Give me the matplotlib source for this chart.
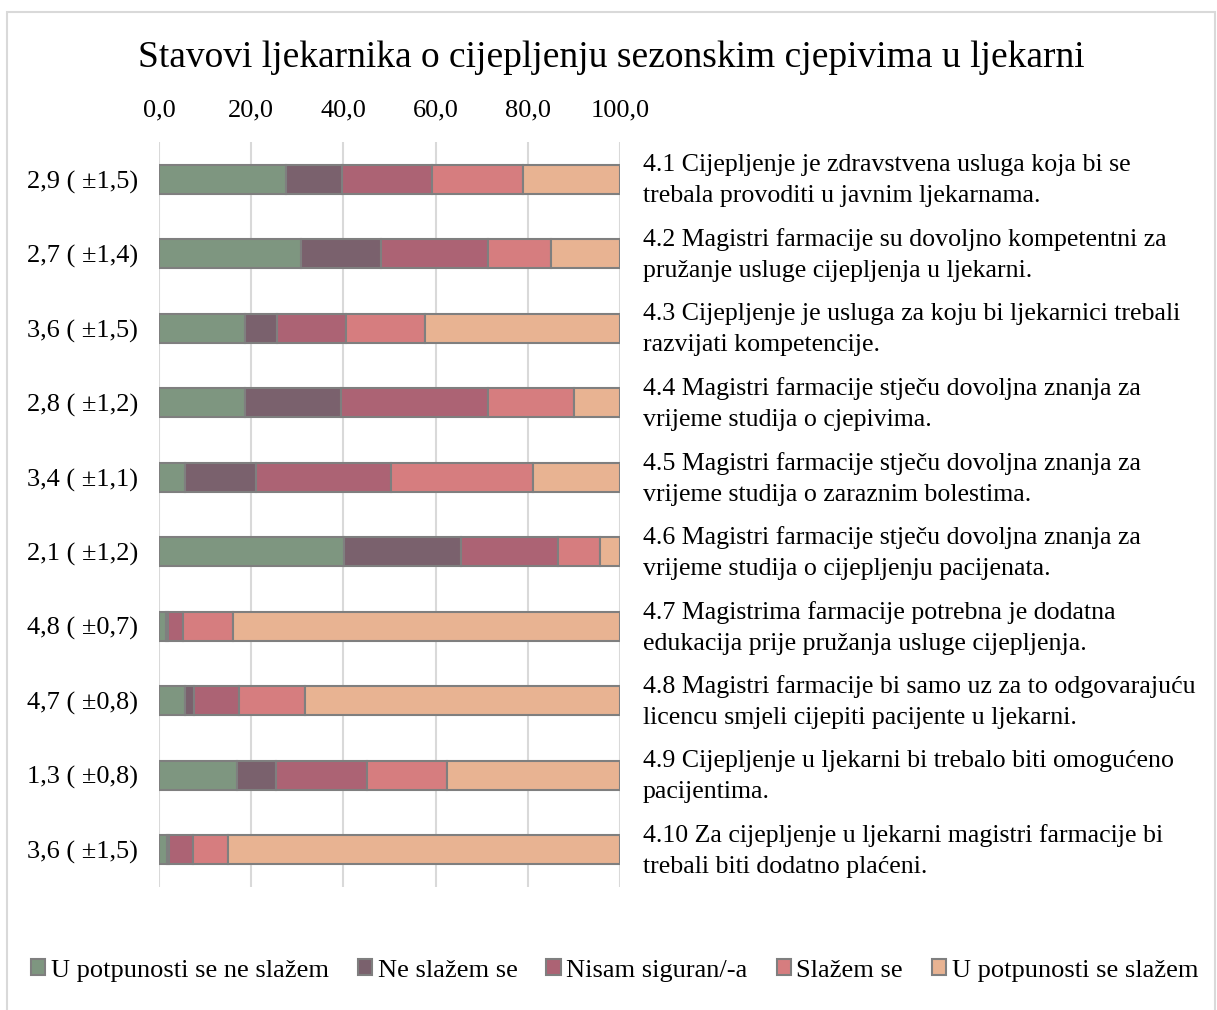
import numpy as np
import matplotlib.pyplot as plt
from matplotlib.patches import Rectangle
from matplotlib.ticker import FuncFormatter

plt.rcParams['font.family'] = ['Liberation Serif', 'DejaVu Serif']

categories = ['U potpunosti se ne slažem', 'Ne slažem se', 'Nisam siguran/-a',
              'Slažem se', 'U potpunosti se slažem']
colors = ['#7e9680', '#7a616d', '#ac6374', '#d67d7f', '#e8b392']

mean_labels = ['2,9 ( ±1,5)', '2,7 ( ±1,4)', '3,6 ( ±1,5)', '2,8 ( ±1,2)', '3,4 ( ±1,1)',
               '2,1 ( ±1,2)', '4,8 ( ±0,7)', '4,7 ( ±0,8)', '1,3 ( ±0,8)', '3,6 ( ±1,5)']

statements = [
    '4.1 Cijepljenje je zdravstvena usluga koja bi se\ntrebala provoditi u javnim ljekarnama.',
    '4.2 Magistri farmacije su dovoljno kompetentni za\npružanje usluge cijepljenja u ljekarni.',
    '4.3 Cijepljenje je usluga za koju bi ljekarnici trebali\nrazvijati kompetencije.',
    '4.4 Magistri farmacije stječu dovoljna znanja za\nvrijeme studija o cjepivima.',
    '4.5 Magistri farmacije stječu dovoljna znanja za\nvrijeme studija o zaraznim bolestima.',
    '4.6 Magistri farmacije stječu dovoljna znanja za\nvrijeme studija o cijepljenju pacijenata.',
    '4.7 Magistrima farmacije potrebna je dodatna\nedukacija prije pružanja usluge cijepljenja.',
    '4.8 Magistri farmacije bi samo uz za to odgovarajuću\nlicencu smjeli cijepiti pacijente u ljekarni.',
    '4.9 Cijepljenje u ljekarni bi trebalo biti omogućeno\npacijentima.',
    '4.10 Za cijepljenje u ljekarni magistri farmacije bi\ntrebali biti dodatno plaćeni.',
]

# postotci po kategoriji (redovi 4.1 - 4.10)
potpuno_ne = [27.5, 30.8, 18.6, 18.6, 5.6, 40.1, 1.4, 5.6, 17.0, 1.7]
ne_slazem = [12.2, 17.4, 6.9, 20.8, 15.5, 25.3, 0.6, 1.9, 8.3, 0.5]
nisam_siguran = [19.4, 23.1, 15.0, 31.9, 29.2, 21.2, 3.3, 9.8, 19.7, 5.1]
slazem = [19.9, 13.8, 17.2, 18.6, 30.9, 9.1, 10.8, 14.3, 17.4, 7.7]
potpuno_da = [21.0, 14.9, 42.3, 10.1, 18.8, 4.3, 83.9, 68.4, 37.6, 85.0]

series = [potpuno_ne, ne_slazem, nisam_siguran, slazem, potpuno_da]

fig = plt.figure(figsize=(12.17, 10.1), dpi=100)
ax = fig.add_axes([0.1307, 0.1218, 0.3788, 0.7376])

y = np.arange(len(mean_labels))
left = np.zeros(len(mean_labels))
for vals, col, name in zip(series, colors, categories):
    ax.barh(y, vals, left=left, height=0.39, color=col, edgecolor='#7f7f7f',
            linewidth=1.5, label=name, zorder=3)
    left += np.array(vals)

ax.set_xlim(0, 100)
ax.set_ylim(9.5, -0.5)
ax.set_xticks([0, 20, 40, 60, 80, 100])
ax.xaxis.set_major_formatter(FuncFormatter(lambda v, p: f'{v:.1f}'.replace('.', ',')))
ax.xaxis.tick_top()
ax.tick_params(axis='x', length=0, pad=15, labelsize=19)
ax.set_yticks(y)
ax.set_yticklabels(mean_labels, fontsize=19)
ax.tick_params(axis='y', length=0, pad=15)
ax.grid(axis='x', color='#d9d9d9', linewidth=1.5, zorder=0)
for s in ax.spines.values():
    s.set_visible(False)

for i, txt in enumerate(statements):
    ax.text(1.05, i + 0.02, txt, transform=ax.get_yaxis_transform(), ha='left', va='center',
            fontsize=18.6, linespacing=1.55)

fig.text(0.502, 0.943, 'Stavovi ljekarnika o cijepljenju sezonskim cjepivima u ljekarni',
         ha='center', va='center', fontsize=27)

fig.legend(loc='center', bbox_to_anchor=(0.505, 0.039), ncol=5, frameon=False,
           fontsize=19, handlelength=0.55, handleheight=0.55, handletextpad=0.2,
           columnspacing=1.1, borderaxespad=0)

fig.patches.append(Rectangle((7 / 1217, -0.01), 1209 / 1217 - 0.001, 1 - 12 / 1010 + 0.01,
                             transform=fig.transFigure, fill=False,
                             edgecolor='#d9d9d9', linewidth=1.5))

plt.savefig('out.png', dpi=100)
